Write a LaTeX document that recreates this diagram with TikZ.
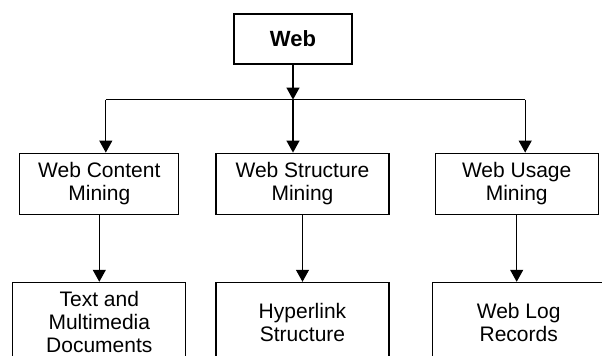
\documentclass[tikz,border=0pt]{standalone}
\usepackage{fontspec}
\setmainfont{Liberation Sans}
\usepackage{tikz}
\usetikzlibrary{positioning, arrows.meta, calc}

\begin{document}
\begin{tikzpicture}[
                box/.style={draw=black, line width=0.6pt, rectangle, align=center, inner sep=0pt,
                            font=\fontsize{10.5}{11.5}\selectfont},
                minebox/.style={box, minimum height=30.5pt},
                sourcebox/.style={box, minimum height=40pt, minimum width=86.5pt},
                edge/.style={line width=0.6pt},
                arrow/.style={edge, -{Triangle[width=6.5pt, length=6pt]}}
            ]

            % Rahmen
            \useasboundingbox (0,0) rectangle (301pt,-178pt);

            % Knoten
            \node[box, minimum width=59pt, minimum height=25pt, font=\fontsize{11}{13}\selectfont\bfseries] (web) at (146.5pt,-19.5pt) {Web};
            \node[minebox, minimum width=86.5pt, below=44pt of web, xshift=4.75pt] (struct) {Web Structure\\Mining};
            \node[minebox, minimum width=79.5pt, left=18pt of struct] (content) {Web Content\\Mining};
            \node[minebox, minimum width=81.5pt, right=22.5pt of struct] (usage) {Web Usage\\Mining};

            \node[sourcebox, below=33.5pt of content] (docs) {Text and\\Multimedia\\Documents};
            \node[sourcebox, below=33.5pt of struct] (links) {Hyperlink\\Structure};
            \node[sourcebox, below=33.5pt of usage, xshift=1pt] (logs) {Web Log\\Records};

            % Verteiler
            \coordinate (bus) at ([yshift=-17.5pt]web.south);
            \coordinate (busL) at ([xshift=3.25pt]content.north |- bus);
            \coordinate (busR) at ([xshift=4.25pt]usage.north |- bus);

            % Kanten zwischen Knoten
            \draw[arrow] (web.south) -- (bus);
            \draw[edge] (busL) -- (busR);
            \draw[arrow] (busL) -- (busL |- content.north);
            \draw[arrow] (bus) -- (bus |- struct.north);
            \draw[arrow] (busR) -- (busR |- usage.north);

            \draw[arrow] (content.south) -- (docs.north);
            \draw[arrow] (struct.south) -- (links.north);
            \draw[arrow] (usage.south) -- (usage.south |- logs.north);

        \end{tikzpicture}
\end{document}
